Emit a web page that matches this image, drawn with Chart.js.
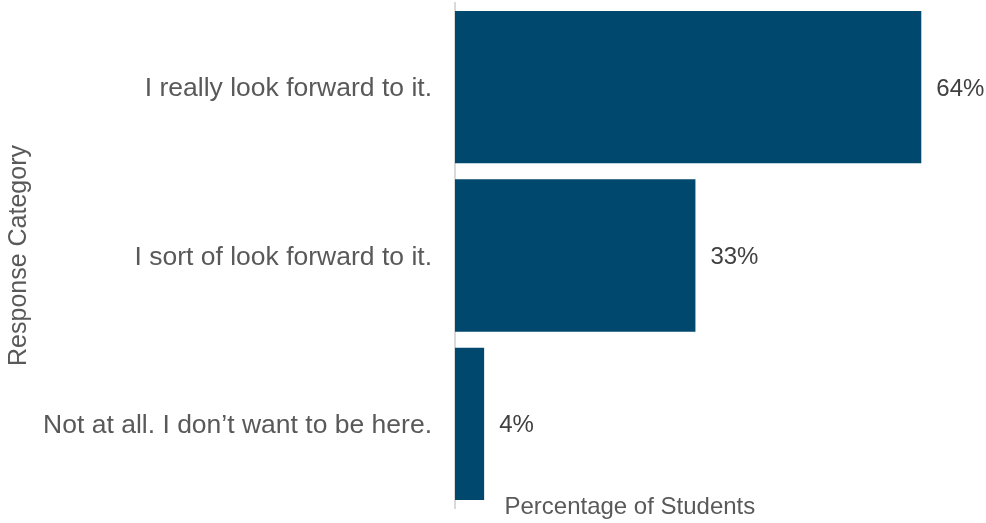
<!DOCTYPE html>
<html>
<head>
<meta charset="utf-8">
<script src="https://cdn.jsdelivr.net/npm/chart.js@4.4.1/dist/chart.umd.min.js"></script>
<style>
  html, body { margin: 0; padding: 0; background: #ffffff; }
  #wrap { width: 986px; height: 523px; }
</style>
</head>
<body>
<div id="wrap"><canvas id="grafica" width="986" height="523"></canvas></div>
<script>
// datos del grafico
const categorias = ['I really look forward to it.', 'I sort of look forward to it.', 'Not at all. I don\u2019t want to be here.'];
const porcentajes = [64, 33, 4];
const etiquetasValor = ['64%', '33%', '4%'];
const tituloX = 'Percentage of Students';
const tituloY = 'Response Category';

const fuente = '"Liberation Sans", Arial, Helvetica, sans-serif';

// etiquetas de valor a la derecha de cada barra
const pluginEtiquetas = {
    id: 'etiquetasValor',
    afterDatasetsDraw(chart) {
        const ctx = chart.ctx;
        const meta = chart.getDatasetMeta(0);
        ctx.save();
        ctx.font = '24px ' + fuente;
        ctx.fillStyle = '#404040';
        ctx.textAlign = 'left';
        ctx.textBaseline = 'middle';
        meta.data.forEach((barra, i) => {
            ctx.fillText(etiquetasValor[i], barra.x + 15, barra.y + 2);
        });
        ctx.restore();
    }
};

// titulo del eje x (no esta centrado en el area del grafico)
const pluginTituloX = {
    id: 'tituloX',
    afterDraw(chart) {
        const ctx = chart.ctx;
        const xScale = chart.scales.x;
        ctx.save();
        ctx.font = '24px ' + fuente;
        ctx.fillStyle = '#595959';
        ctx.textAlign = 'center';
        ctx.textBaseline = 'alphabetic';
        ctx.fillText(tituloX, xScale.getPixelForValue(24), chart.height - 9);
        ctx.restore();
    }
};

const ctx = document.getElementById('grafica').getContext('2d');
const grafica = new Chart(ctx, {
    type: 'bar',
    data: {
        labels: categorias,
        datasets: [{
            label: tituloX,
            data: porcentajes,
            backgroundColor: '#01486e',
            borderWidth: 0,
            categoryPercentage: 1,
            barPercentage: 0.905
        }]
    },
    options: {
        indexAxis: 'y',
        responsive: false,
        animation: false,
        layout: {
            padding: { left: 0, right: 21, top: 3, bottom: 15 }
        },
        plugins: {
            legend: { display: false },
            tooltip: { enabled: false }
        },
        scales: {
            x: {
                display: false,
                min: 0,
                max: 70
            },
            y: {
                afterFit(scale) {
                    scale.width = 455;
                    scale.paddingTop = 0;
                    scale.paddingBottom = 0;
                },
                grid: { display: false, drawTicks: false },
                border: { display: true, color: '#d9d9d9', width: 2 },
                ticks: {
                    color: '#595959',
                    padding: 23,
                    labelOffset: 2,
                    font: { family: fuente, size: 26.5 }
                },
                title: {
                    display: true,
                    text: tituloY,
                    color: '#595959',
                    padding: { top: 4, bottom: 0 },
                    font: { family: fuente, size: 25 }
                }
            }
        }
    },
    plugins: [pluginEtiquetas, pluginTituloX]
});
</script>
</body>
</html>
